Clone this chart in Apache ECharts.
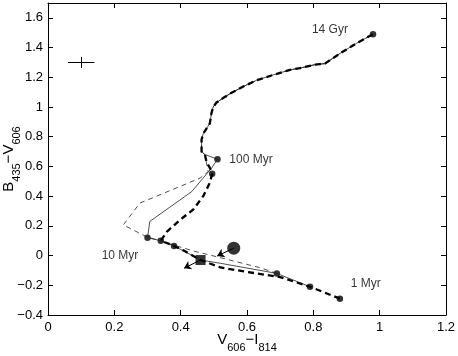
<!DOCTYPE html>
<html><head><meta charset="utf-8">
<script src="https://cdn.jsdelivr.net/npm/echarts@6/dist/echarts.min.js"></script>
<style>html,body{margin:0;padding:0;background:#fff}#c{width:458px;height:356px}</style>
</head><body><div id="c"></div>
<script>
// ---- data ----
const xTicks = [0, 0.2, 0.4, 0.6, 0.8, 1, 1.2];
const yTicks = [-0.4, -0.2, 0, 0.2, 0.4, 0.6, 0.8, 1, 1.2, 1.4, 1.6];

// shared old-age part of the tracks (from ~100 Myr up to 14 Gyr)
const upperTrack = [[0.473,0.68],[0.463,0.70],[0.463,0.78],[0.468,0.82],[0.488,0.89],[0.493,0.96],[0.498,1.00],[0.508,1.03],[0.528,1.06],[0.549,1.09],[0.589,1.138],[0.629,1.18],[0.679,1.216],[0.73,1.25],[0.76,1.262],[0.805,1.285],[0.82,1.289],[0.835,1.292],[0.88,1.36],[0.931,1.43],[0.98,1.49]];
// young part, thick dashed track (1 Myr -> 100 Myr)
const thickYoung = [[0.88,-0.29],[0.79,-0.21],[0.70,-0.145],[0.60,-0.11],[0.52,-0.08],[0.46,-0.03],[0.408,0.035],[0.38,0.065],[0.34,0.10],[0.358,0.16],[0.398,0.24],[0.438,0.31],[0.468,0.40],[0.488,0.49],[0.495,0.55],[0.488,0.59],[0.478,0.63]];
// young part, thin solid track
const solidYoung = [[0.79,-0.21],[0.69,-0.12],[0.52,-0.052],[0.46,-0.03],[0.38,0.065],[0.34,0.10],[0.30,0.12],[0.307,0.23],[0.433,0.43],[0.493,0.588],[0.511,0.649]];
// young part, thin dashed track
const dashedYoung = [[0.69,-0.12],[0.64,-0.082],[0.50,-0.003],[0.44,0.03],[0.38,0.07],[0.30,0.125],[0.287,0.138],[0.227,0.206],[0.277,0.353],[0.458,0.521],[0.483,0.565]];
// age markers (filled dots)
const ageDots = [[0.88,-0.29],[0.79,-0.21],[0.69,-0.12],[0.38,0.065],[0.34,0.10],[0.30,0.12],[0.495,0.55],[0.511,0.649],[0.98,1.49]];
const bigCircle = [0.56, 0.05];
const squarePoint = [0.46, -0.03];
const circleArrowEnd = [0.51, -0.003];
const squareArrowEnd = [0.41, -0.085];
const ageLabels = ['14 Gyr', '100 Myr', '10 Myr', '1 Myr'];
const ageLabelPos = [[0.85,1.52],[0.612,0.643],[0.217,0.0],[0.958,-0.186]];
const errCenter = [0.1, 1.3];
const errHalf = [0.04, 0.037];

// ---- chart ----
const FONT = '"Liberation Sans", Arial, Helvetica, sans-serif';
const chart = echarts.init(document.getElementById('c'), null, {renderer: 'canvas'});
const fmtNum = v => String(+v.toFixed(6)).replace('-', '\u2212');
const onTick = (v, ticks) => ticks.some(t => Math.abs(t - v) < 1e-6);

const axisCommon = {
  type: 'value',
  splitLine: {show: false},
  axisLine: {show: true, onZero: false, lineStyle: {color: '#000', width: 1}},
  axisTick: {show: true, inside: true, length: 5, lineStyle: {color: '#000', width: 1}}
};
const nameRich = {
  m: {fontSize: 15, fontFamily: FONT, color: '#000'},
  s: {fontSize: 11, fontFamily: FONT, color: '#000', padding: [16, 0, 0, 0]}
};

const option = {
  animation: false,
  backgroundColor: '#fff',
  grid: {left: 48, right: 12, top: 3, bottom: 41, containLabel: false, outerBoundsMode: 'none'},
  xAxis: [
    Object.assign({}, axisCommon, {
      position: 'bottom', min: xTicks[0], max: xTicks[xTicks.length - 1], interval: 0.2,
      axisLabel: {color: '#000', fontSize: 13, fontFamily: FONT, margin: 6,
        formatter: v => onTick(v, xTicks) ? fmtNum(v) : ''},
      name: '{m|V}{s|606}{m|\u2212I}{s|814}', nameLocation: 'middle', nameGap: 11,
      nameMoveOverlap: false,
      nameTextStyle: {rich: nameRich}
    }),
    Object.assign({}, axisCommon, {
      position: 'top', min: xTicks[0], max: xTicks[xTicks.length - 1], interval: 0.2,
      axisLabel: {show: false}
    })
  ],
  yAxis: [
    Object.assign({}, axisCommon, {
      position: 'left', min: yTicks[0], max: 1.7, interval: 0.2,
      axisLabel: {color: '#000', fontSize: 13, fontFamily: FONT, margin: 5, showMaxLabel: false,
        formatter: v => onTick(v, yTicks) ? fmtNum(v) : ''},
      name: '{m|B}{s|435}{m|\u2212V}{s|606}', nameLocation: 'middle', nameGap: 26, nameRotate: 90,
      nameMoveOverlap: false,
      nameTextStyle: {rich: nameRich}
    }),
    Object.assign({}, axisCommon, {
      position: 'right', min: yTicks[0], max: 1.7, interval: 0.2,
      axisLabel: {show: false}
    })
  ],
  series: [
    {type: 'line', data: dashedYoung.concat(upperTrack), symbol: 'none', silent: true,
      lineStyle: {color: '#222', width: 0.8, type: [5, 4]}},
    {type: 'line', data: solidYoung.concat(upperTrack), symbol: 'none', silent: true,
      lineStyle: {color: '#222', width: 0.8}},
    {type: 'line', data: thickYoung.concat(upperTrack), symbol: 'none', silent: true,
      lineStyle: {color: '#000', width: 2.3, type: [6, 4], cap: 'butt'}},
    {type: 'scatter', data: ageDots, symbol: 'circle', symbolSize: 6.5,
      itemStyle: {color: '#000'}},
    {type: 'scatter', data: [bigCircle], symbol: 'circle', symbolSize: 13,
      itemStyle: {color: '#000'}},
    {type: 'scatter', data: [squarePoint], symbol: 'rect', symbolSize: 10,
      itemStyle: {color: '#000'}},
    {type: 'lines', coordinateSystem: 'cartesian2d', silent: true,
      symbol: ['none', 'arrow'], symbolSize: [0, 7],
      lineStyle: {color: '#000', width: 1, opacity: 1},
      data: [{coords: [bigCircle, circleArrowEnd]}, {coords: [squarePoint, squareArrowEnd]}]},
    {type: 'lines', coordinateSystem: 'cartesian2d', silent: true, symbol: 'none',
      lineStyle: {color: '#000', width: 1, opacity: 1},
      data: [
        {coords: [[errCenter[0] - errHalf[0], errCenter[1]], [errCenter[0] + errHalf[0], errCenter[1]]]},
        {coords: [[errCenter[0], errCenter[1] - errHalf[1]], [errCenter[0], errCenter[1] + errHalf[1]]]}
      ]},
    {type: 'scatter', symbolSize: 0, silent: true,
      data: ageLabels.map((t, i) => ({name: t, value: ageLabelPos[i]})),
      label: {show: true, position: 'inside', formatter: p => p.name,
        color: '#000', fontSize: 12, fontFamily: FONT}}
  ]
};
chart.setOption(option);
</script>
</body></html>
